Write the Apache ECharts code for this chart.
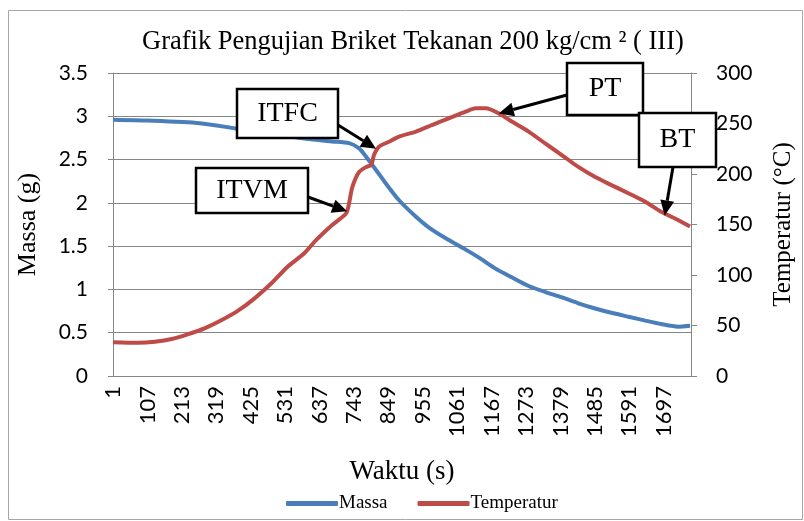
<!DOCTYPE html>
<html>
<head>
<meta charset="utf-8">
<script src="https://cdn.jsdelivr.net/npm/echarts@6/dist/echarts.min.js"></script>
<style>
  html, body { margin: 0; padding: 0; background: #fff; }
  #grafik { width: 804px; height: 521px; }
</style>
</head>
<body>
<div id="grafik"></div>
<script>
// waktu (s) dan massa (g)
const waktuMassa = [1, 108, 268, 378, 596, 676, 728, 759, 781, 811, 842, 882, 934, 983, 1035, 1087, 1127, 1179, 1229, 1281, 1333, 1382, 1434, 1486, 1536, 1588, 1640, 1689, 1741, 1778];
const massa = [2.96, 2.95, 2.92, 2.86, 2.74, 2.71, 2.69, 2.63, 2.53, 2.38, 2.22, 2.03, 1.84, 1.69, 1.57, 1.46, 1.37, 1.24, 1.14, 1.04, 0.97, 0.91, 0.84, 0.78, 0.73, 0.685, 0.64, 0.60, 0.57, 0.58];

// waktu (s) dan temperatur (C)
const waktuSuhu = [1, 78, 130, 182, 231, 283, 336, 385, 437, 489, 538, 590, 627, 676, 719, 728, 738, 759, 781, 796, 805, 820, 851, 882, 934, 983, 1035, 1087, 1118, 1149, 1189, 1229, 1281, 1333, 1382, 1434, 1486, 1536, 1588, 1640, 1689, 1741, 1778];
const suhu = [33.5, 33, 34, 36.6, 41.3, 47.2, 55.4, 64.4, 76.9, 91.8, 108, 121.5, 134.7, 149.5, 161, 171, 187, 202, 207, 209, 219, 227, 232, 237, 242, 248.5, 255, 261.7, 265, 265, 260, 252, 242, 230, 219, 207, 197, 189, 181, 172.6, 162.7, 154.5, 148];

// label sumbu x: 1, 107, 213, ... 1697
const labelAwal = 1;
const labelJarak = 106;
const waktuAkhir = 1781;

// titik yang ditunjuk panah
const catatanNama = ['ITVM', 'ITFC', 'PT', 'BT'];
const catatanWaktu = [722, 811, 1189, 1700];
const catatanSuhu = [163, 225, 260, 159];

// posisi kotak keterangan (px) dan pangkal panah
const kotak = [
  { x: 196, y: 168, w: 112, h: 45, ekorX: 308, ekorY: 197 },
  { x: 237, y: 89, w: 101, h: 49, ekorX: 338, ekorY: 125 },
  { x: 567, y: 63, w: 76, h: 52, ekorX: 567, ekorY: 95 },
  { x: 639, y: 113, w: 77, h: 54, ekorX: 673, ekorY: 167 }
];

const serif = '"Liberation Serif", "Times New Roman", serif';
const sans = 'Lato, "Liberation Sans", sans-serif';
const abu = '#868686';

const chart = echarts.init(document.getElementById('grafik'));

const option = {
  animation: false,
  backgroundColor: '#fff',
  title: {
    text: 'Grafik Pengujian Briket Tekanan 200 kg/cm ² ( III)',
    left: 137,
    top: 24,
    textStyle: { fontFamily: serif, fontSize: 26.5, fontWeight: 'normal', color: '#000' }
  },
  grid: { left: 113, right: 111, top: 73, bottom: 145, containLabel: false },
  legend: {
    bottom: 3,
    left: 281,
    icon: 'roundRect',
    itemWidth: 52,
    itemHeight: 5,
    itemGap: 30,
    textStyle: { fontFamily: serif, fontSize: 19, color: '#000', padding: [0, 0, 0, -4] },
    data: ['Massa', 'Temperatur']
  },
  xAxis: {
    type: 'value',
    min: labelAwal,
    max: waktuAkhir,
    interval: labelJarak,
    name: 'Waktu (s)',
    nameLocation: 'middle',
    nameGap: 82,
    nameTextStyle: { fontFamily: serif, fontSize: 27, color: '#000' },
    axisLine: { show: true, lineStyle: { color: abu, width: 1 } },
    axisTick: { show: false },
    splitLine: { show: false },
    axisLabel: {
      rotate: 90,
      margin: 10,
      fontFamily: sans,
      fontSize: 22,
      color: '#000',
      showMaxLabel: false,
      formatter: function (v) {
        return (v - labelAwal) % labelJarak === 0 ? String(v) : '';
      }
    }
  },
  yAxis: [
    {
      type: 'value',
      min: 0,
      max: 3.5,
      interval: 0.5,
      name: 'Massa (g)',
      nameLocation: 'middle',
      nameGap: 72,
      nameTextStyle: { fontFamily: serif, fontSize: 26, color: '#000' },
      axisLine: { show: true, lineStyle: { color: abu, width: 1 } },
      axisTick: { show: true, length: 5, lineStyle: { color: abu } },
      splitLine: { show: true, lineStyle: { color: abu, width: 1 } },
      axisLabel: { margin: 25, fontFamily: sans, fontSize: 21, color: '#000' }
    },
    {
      type: 'value',
      min: 0,
      max: 300,
      interval: 50,
      name: 'Temperatur (°C)',
      nameLocation: 'middle',
      nameGap: 80,
      nameRotate: 90,
      nameTextStyle: { fontFamily: serif, fontSize: 25, color: '#000' },
      axisLine: { show: true, lineStyle: { color: abu, width: 1 } },
      axisTick: { show: true, length: 6, lineStyle: { color: abu } },
      splitLine: { show: false },
      axisLabel: { margin: 25, fontFamily: sans, fontSize: 21, color: '#000' }
    }
  ],
  series: [
    {
      name: 'Massa',
      type: 'line',
      yAxisIndex: 0,
      showSymbol: false,
      smooth: 0.25,
      color: '#4A7EBB',
      lineStyle: { width: 4, color: '#4A7EBB' },
      data: waktuMassa.map((t, i) => [t, massa[i]])
    },
    {
      name: 'Temperatur',
      type: 'line',
      yAxisIndex: 1,
      showSymbol: false,
      smooth: 0.25,
      color: '#BE4B48',
      lineStyle: { width: 4, color: '#BE4B48' },
      data: waktuSuhu.map((t, i) => [t, suhu[i]])
    }
  ]
};

chart.setOption(option);

// kotak keterangan dan panah
const elemen = [
  {
    type: 'rect',
    z: 100,
    shape: { x: 8.5, y: 10.5, width: 794, height: 509 },
    style: { fill: 'none', stroke: '#a6a6a6', lineWidth: 1 }
  }
];
catatanNama.forEach(function (nama, i) {
  const k = kotak[i];
  const ujung = chart.convertToPixel({ xAxisIndex: 0, yAxisIndex: 1 }, [catatanWaktu[i], catatanSuhu[i]]);
  const dx = ujung[0] - k.ekorX;
  const dy = ujung[1] - k.ekorY;
  const len = Math.sqrt(dx * dx + dy * dy);
  const ux = dx / len, uy = dy / len;
  const panjang = 15, lebar = 7;
  const bx = ujung[0] - ux * panjang, by = ujung[1] - uy * panjang;
  elemen.push({
    type: 'line',
    z: 100,
    shape: { x1: k.ekorX, y1: k.ekorY, x2: bx, y2: by },
    style: { stroke: '#000', lineWidth: 3 }
  });
  elemen.push({
    type: 'polygon',
    z: 100,
    shape: { points: [[ujung[0], ujung[1]], [bx - uy * lebar, by + ux * lebar], [bx + uy * lebar, by - ux * lebar]] },
    style: { fill: '#000' }
  });
  elemen.push({
    type: 'rect',
    z: 101,
    shape: { x: k.x, y: k.y, width: k.w, height: k.h },
    style: { fill: '#fff', stroke: '#000', lineWidth: 2.5 }
  });
  elemen.push({
    type: 'text',
    z: 102,
    style: {
      text: nama,
      x: k.x + k.w / 2,
      y: k.y + k.h / 2,
      textAlign: 'center',
      textVerticalAlign: 'middle',
      align: 'center',
      verticalAlign: 'middle',
      font: '28px ' + serif,
      fill: '#000'
    }
  });
});
chart.setOption({ graphic: { elements: elemen } });
</script>
</body>
</html>
